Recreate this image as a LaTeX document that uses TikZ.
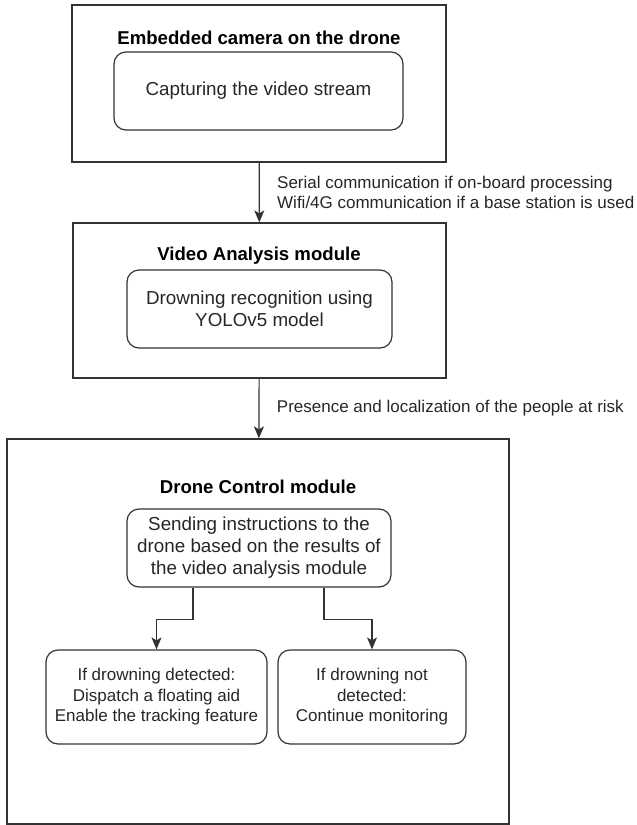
\documentclass[tikz,border=0pt]{standalone}
\usepackage{fontspec}
\setmainfont{Liberation Sans}
\usepackage{tikz}
\usetikzlibrary{arrows.meta}

\begin{document}
\begin{tikzpicture}[x=1pt, y=-1pt, line width=1.2pt, draw=black!80, text=black!85,
        font=\fontsize{17}{20.5}\selectfont,
        >={Stealth[length=12pt, width=10pt, inset=3pt]},
        module/.style={draw, rectangle, inner sep=0pt},
        modtitle/.style={font=\fontsize{18.6}{21}\selectfont\bfseries, text=black},
        task/.style={draw, rectangle, rounded corners=12pt, align=center, inner sep=0pt},
        bigtask/.style={task, font=\fontsize{18.8}{22}\selectfont}]
        \useasboundingbox (0, 0) rectangle (637, 825);

        \node[module, minimum width=374pt, minimum height=157pt] at (259, 83.5) (camerabox) {};
        \node[modtitle] at (259, 38) (cameratitle) {Embedded camera on the drone};
        \node[bigtask, minimum width=289pt, minimum height=78pt] at (258.5, 91) (capture) {Capturing the video stream};

        \node[module, minimum width=373pt, minimum height=155pt] at (259.5, 300.5) (videobox) {};
        \node[modtitle] at (259, 256) (videotitle) {Video Analysis module};
        \node[bigtask, minimum width=265pt, minimum height=78pt] at (259.5, 309) (recognition) {Drowning recognition using\\YOLOv5 model};

        \node[module, minimum width=502pt, minimum height=385pt] at (258, 631.5) (controlbox) {};
        \node[modtitle] at (258, 487) (controltitle) {Drone Control module};
        \node[bigtask, minimum width=264pt, minimum height=78pt] at (259, 548) (instructions) {Sending instructions to the\\drone based on the results of\\the video analysis module};
        \node[task, minimum width=221pt, minimum height=94pt] at (156.5, 697) (detected) {If drowning detected:\\Dispatch a floating aid\\Enable the tracking feature};
        \node[task, minimum width=188pt, minimum height=94pt] at (372, 697) (notdetected) {If drowning not\\detected:\\Continue monitoring};

        \draw[->] (camerabox) -- node[midway, right=14pt, align=left] {Serial communication if on-board processing\\Wifi/4G communication if a base station is used} (videobox);
        \draw[->] (videobox) -- node[midway, right=14pt] {Presence and localization of the people at risk} (controlbox);
        \draw[->] ([xshift=-66pt]instructions.south) -- ++(0, 32) -| (detected.north);
        \draw[->] ([xshift=65pt]instructions.south) -- ++(0, 32) -| (notdetected.north);
    \end{tikzpicture}
\end{document}
